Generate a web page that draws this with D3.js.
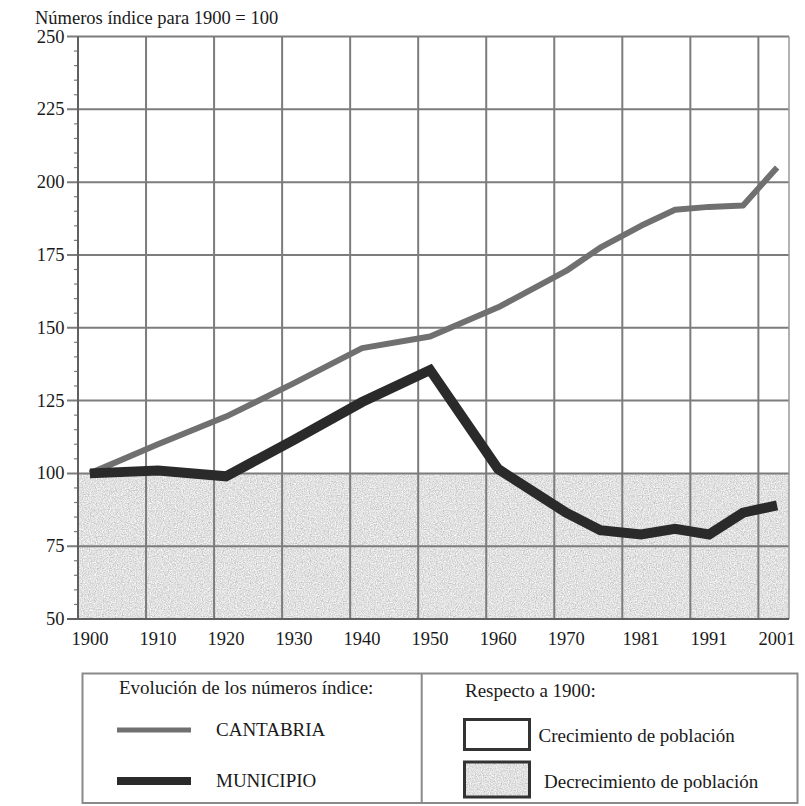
<!DOCTYPE html>
<html>
<head>
<meta charset="utf-8">
<script src="https://cdn.jsdelivr.net/npm/d3@7"></script>
<style>
  html, body { margin: 0; padding: 0; background: #fff; }
  svg { display: block; }
  text { font-family: "Liberation Serif", "Times New Roman", serif; fill: #1a1a1a; }
</style>
</head>
<body>
<svg id="chart" width="805" height="806"></svg>
<script>
// ---- data ----
const years = [1900, 1910, 1920, 1930, 1940, 1950, 1960, 1970, 1975, 1981, 1986, 1991, 1996, 2001];
const cantabria = [100, 110, 119.5, 131, 143, 147, 157, 169.5, 177.5, 185, 190.5, 191.5, 192, 205];
const municipio = [100, 101, 99, 111.5, 124.5, 135.5, 101.5, 86.5, 80.5, 79, 81, 79, 86.5, 89];
const xTickLabels = [1900, 1910, 1920, 1930, 1940, 1950, 1960, 1970, 1981, 1991, 2001];
const yTicks = [50, 75, 100, 125, 150, 175, 200, 225, 250];
const baseValue = 100;
const yTitle = "Números índice para 1900 = 100";
const legendLeftTitle = "Evolución de los números índice:";
const legendRightTitle = "Respecto a 1900:";
const seriesNames = ["CANTABRIA", "MUNICIPIO"];
const areaNames = ["Crecimiento de población", "Decrecimiento de población"];

// ---- layout ----
const svg = d3.select("#chart");
const pLeft = 78, pRight = 789, pTop = 36.5, pBottom = 619;
const x = d3.scaleLinear().domain([1898.25, 2002.75]).range([pLeft, pRight]);
const y = d3.scaleLinear().domain([50, 250]).range([pBottom, pTop]);
const gridYears = d3.range(0, 11).map(k => 1898.25 + 10 * k);

const colCant = "#707070", colMun = "#2a2a2a", gridCol = "#7c7c7c";
const fs = 18.5, fsLeg = 19;

// speckle filter for the grey area
const defs = svg.append("defs");
const f = defs.append("filter").attr("id", "speckle").attr("x", 0).attr("y", 0).attr("width", 1).attr("height", 1)
  .attr("filterUnits", "objectBoundingBox");
f.append("feTurbulence").attr("type", "fractalNoise").attr("baseFrequency", 0.85).attr("numOctaves", 2).attr("seed", 4).attr("result", "n");
f.append("feColorMatrix").attr("in", "n").attr("type", "matrix")
  .attr("values", "0.7 0 0 0 0.4  0.7 0 0 0 0.4  0.7 0 0 0 0.4  0 0 0 0 1").attr("result", "g");
f.append("feComposite").attr("in", "g").attr("in2", "SourceGraphic").attr("operator", "in");

// title
svg.append("text").attr("x", 35).attr("y", 24).attr("font-size", fs).text(yTitle);

// grey "decrease" zone
svg.append("rect")
  .attr("x", pLeft).attr("y", y(baseValue))
  .attr("width", pRight - pLeft).attr("height", y(50) - y(baseValue))
  .attr("fill", "#c2c2c2").attr("filter", "url(#speckle)");

// horizontal gridlines
svg.append("g").selectAll("line").data(yTicks).join("line")
  .attr("x1", pLeft - 11).attr("x2", pRight)
  .attr("y1", d => y(d)).attr("y2", d => y(d))
  .attr("stroke", gridCol).attr("stroke-width", 2);

// minor ticks on y axis
svg.append("g").selectAll("line").data(d3.range(50, 251, 5).filter(v => v % 25 !== 0)).join("line")
  .attr("x1", pLeft - 4).attr("x2", pLeft)
  .attr("y1", d => y(d)).attr("y2", d => y(d))
  .attr("stroke", gridCol).attr("stroke-width", 1.2);

// vertical gridlines
svg.append("g").selectAll("line").data(gridYears).join("line")
  .attr("x1", d => x(d)).attr("x2", d => x(d))
  .attr("y1", pTop).attr("y2", pBottom)
  .attr("stroke", gridCol).attr("stroke-width", 2);

// right border
svg.append("line").attr("x1", pRight).attr("x2", pRight).attr("y1", pTop).attr("y2", pBottom)
  .attr("stroke", "#999").attr("stroke-width", 1.5);

// axes lines
svg.append("line").attr("x1", pLeft).attr("x2", pLeft).attr("y1", pTop).attr("y2", pBottom)
  .attr("stroke", "#606060").attr("stroke-width", 2);
svg.append("line").attr("x1", pLeft - 11).attr("x2", pRight).attr("y1", pBottom).attr("y2", pBottom)
  .attr("stroke", "#606060").attr("stroke-width", 2);

// y labels
svg.append("g").selectAll("text").data(yTicks).join("text")
  .attr("x", 64.5).attr("y", d => y(d) + 6)
  .attr("text-anchor", "end").attr("font-size", fs)
  .text(d => d);

// x labels
svg.append("g").selectAll("text").data(xTickLabels).join("text")
  .attr("x", d => x(d)).attr("y", 645)
  .attr("text-anchor", "middle").attr("font-size", fs)
  .text(d => d);

// lines
const line = d3.line().x(d => x(d[0])).y(d => y(d[1]));
svg.append("path").datum(d3.zip(years, cantabria)).attr("d", line)
  .attr("fill", "none").attr("stroke", colCant).attr("stroke-width", 6).attr("stroke-linejoin", "round");
svg.append("path").datum(d3.zip(years, municipio)).attr("d", line)
  .attr("fill", "none").attr("stroke", colMun).attr("stroke-width", 10).attr("stroke-linejoin", "miter");

// ---- legend ----
const lg = svg.append("g");
lg.append("rect").attr("x", 82.5).attr("y", 673.5).attr("width", 715).attr("height", 129.5)
  .attr("fill", "#fff").attr("stroke", "#8a8a8a").attr("stroke-width", 2);
lg.append("line").attr("x1", 421.7).attr("x2", 421.7).attr("y1", 673.5).attr("y2", 803)
  .attr("stroke", "#8a8a8a").attr("stroke-width", 2);

lg.append("text").attr("x", 119).attr("y", 694).attr("font-size", fsLeg).text(legendLeftTitle);
const sw = [{name: seriesNames[0], col: colCant, w: 5, y: 730}, {name: seriesNames[1], col: colMun, w: 8, y: 781}];
sw.forEach(s => {
  lg.append("line").attr("x1", 117).attr("x2", 191).attr("y1", s.y).attr("y2", s.y)
    .attr("stroke", s.col).attr("stroke-width", s.w);
  lg.append("text").attr("x", 216).attr("y", s.y + 6).attr("font-size", fsLeg).text(s.name);
});

lg.append("text").attr("x", 465).attr("y", 697).attr("font-size", fsLeg).text(legendRightTitle);
lg.append("rect").attr("x", 464.5).attr("y", 719.5).attr("width", 65).attr("height", 30)
  .attr("fill", "#fff").attr("stroke", "#333").attr("stroke-width", 3);
lg.append("text").attr("x", 538.5).attr("y", 742).attr("font-size", fsLeg).text(areaNames[0]);
lg.append("rect").attr("x", 464.5).attr("y", 762).attr("width", 65).attr("height", 35)
  .attr("fill", "#c2c2c2").attr("filter", "url(#speckle)");
lg.append("rect").attr("x", 464.5).attr("y", 762).attr("width", 65).attr("height", 35)
  .attr("fill", "none").attr("stroke", "#333").attr("stroke-width", 3);
lg.append("text").attr("x", 544).attr("y", 788).attr("font-size", fsLeg).text(areaNames[1]);
</script>
</body>
</html>
